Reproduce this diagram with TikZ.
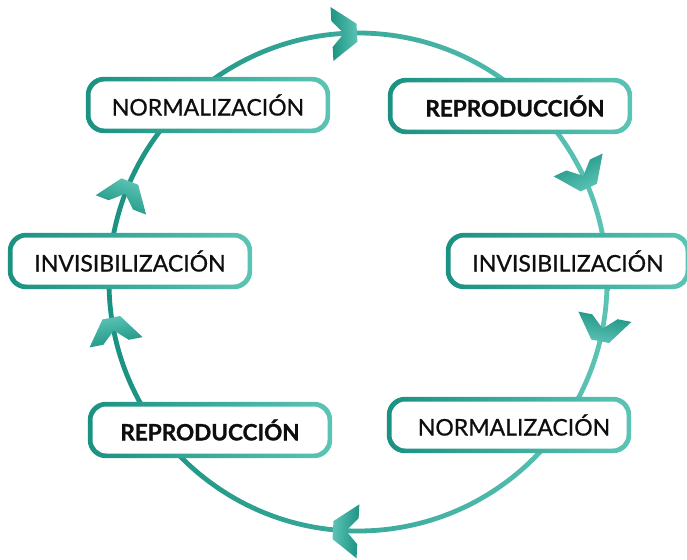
\documentclass[tikz,border=0pt]{standalone}
\usepackage{fontspec}
\setmainfont{Lato}
\newfontfamily\stagefont{Lato}[FakeBold=0.7, BoldFeatures={FakeBold=1.2}]
\usetikzlibrary{backgrounds,calc}
\definecolor{tealdark}{HTML}{1A9181}
\definecolor{teallight}{HTML}{5CC4B5}
\definecolor{inktext}{HTML}{0E0E0E}
\newcommand{\rad}{249}
\newcommand{\rim}{4.5pt}
\newcommand{\boxrim}[1]{\shade[left color=tealdark, right color=teallight, rounded corners=18pt] ([xshift=-\rim,yshift=-\rim]#1.south west) rectangle ([xshift=\rim,yshift=\rim]#1.north east);}
% chevron point: along the ring by #1, across it by #2, about (m) at angle \a
\newcommand{\cp}[2]{($(m)+(\a+90:#1)+(\a:#2)$)}
\tikzset{
  stagebox/.style={rounded corners=14pt, fill=white, minimum width=235pt, minimum height=47pt, inner sep=0pt, text=inktext, font=\stagefont\fontsize{23}{26}\selectfont},
  stagebold/.style={stagebox, font=\stagefont\fontsize{22.5}{26}\selectfont\bfseries},
  chevshade/.style={shading=axis, top color=tealdark, bottom color=teallight}
}

\begin{document}
\begin{tikzpicture}[x=1pt,y=-1pt]
    \useasboundingbox (0,0) rectangle (687,559);
    \coordinate (c) at (358,282);

    \node[stagebox] (normtop) at (208,105) {NORMALIZACIÓN};
    \node[stagebold] (reprotop) at (510,106) {\hspace{10pt}REPRODUCCIÓN};
    \node[stagebox] (invisleft) at (130,261) {INVISIBILIZACIÓN};
    \node[stagebox] (invisright) at (568,261) {INVISIBILIZACIÓN};
    \node[stagebold] (reprobot) at (210,430) {REPRODUCCIÓN};
    \node[stagebox] (normbot) at (509,425) {\hspace{10pt}NORMALIZACIÓN};

    \begin{scope}[on background layer]
    % the cycle ring
    \shade[left color=tealdark, right color=teallight, even odd rule] (c) circle (\rad+2.4) (c) circle (\rad-2.4);
    % chevrons, pointing clockwise
    \foreach \a in {267, 335, 11, 93, 169, 201} {
      \coordinate (m) at ([shift={(\a:\rad)}]c);
      \shade[chevshade, shading angle=-\a] \cp{-13}{-27} -- \cp{12}{-9} -- \cp{12}{9} -- \cp{-13}{27} -- \cp{-13}{13} -- \cp{-1}{0} -- \cp{-13}{-13} -- cycle;
    }
    \foreach \n in {normtop, reprotop, invisleft, invisright, reprobot, normbot} {\boxrim{\n}}
    \end{scope}
\end{tikzpicture}
\end{document}
